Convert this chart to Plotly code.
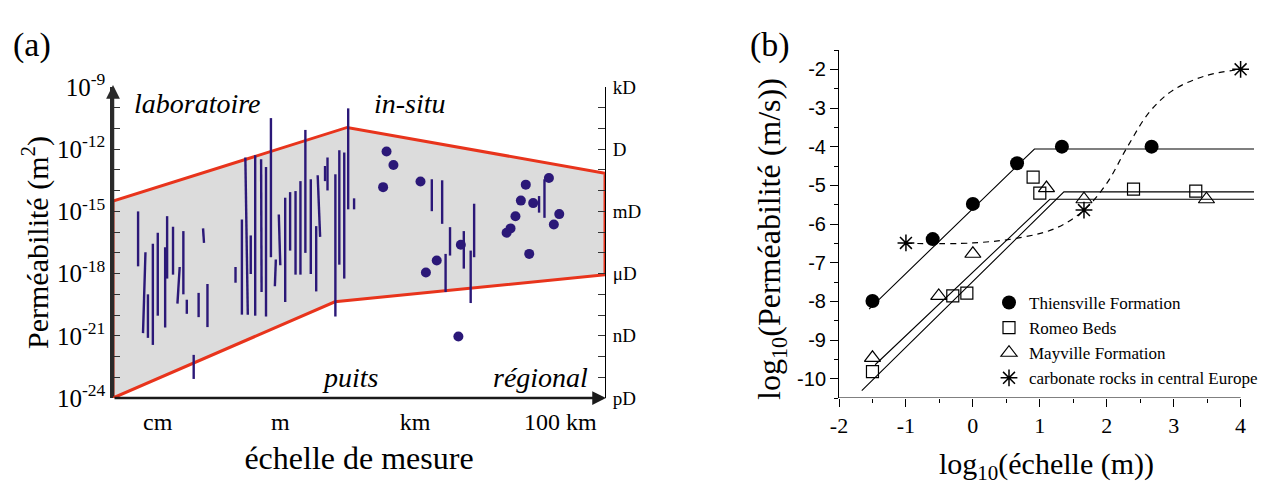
import numpy as np
import plotly.graph_objects as go

W, H = 1273, 486
SERIF = "Liberation Serif"
SANS = "Liberation Sans"
NAVY = "#2b1878"
RED = "#e8341c"

# ---------------- Panel (a) data ----------------
# x: position along the schematic measurement-scale axis (0 = left, 100 = right)
scale_tick_pos = [9.1, 34.0, 61.4, 90.9]
scale_tick_lab = ["cm", "m", "km", "100 km"]

perm_major_exp = [-24, -21, -18, -15, -12, -9]
perm_major_lab = ["10<sup>-24</sup>", "10<sup>-21</sup>", "10<sup>-18</sup>",
                  "10<sup>-15</sup>", "10<sup>-12</sup>", "10<sup>-9</sup>"]
darcy_lab = ["pD", "nD", "\u03bcD", "mD", "D", "kD"]

# envelope (log10 permeability)
env_x = [0, 47.6, 100, 100, 45.1, 0, 0]
env_exp = [-14.5, -10.95, -13.16, -18.05, -19.36, -24, -14.5]

# measured ranges: x at top, x at bottom, log10 k top, log10 k bottom
rng_x_top = [5.1, 6.6, 7.1, 8.1, 9.1, 10.6, 11.0, 12.2, 13.55, 14.3, 15.0, 16.4, 17.4,
             18.3, 19.2, 24.9, 26.2, 26.9, 28.0, 28.9, 30.1, 31.1, 32.1, 33.1, 33.7,
             35.0, 36.0, 37.1, 38.1, 39.1, 40.2, 41.3, 41.6, 43.1, 43.6, 45.2, 46.0,
             47.0, 47.8, 49.0, 64.8, 66.9, 68.5, 71.3, 67.6, 73.4, 72.7, 86.6, 87.7]
rng_x_bot = [5.1, 6.1, 7.1, 8.1, 9.1, 10.6, 11.0, 12.2, 13.1, 14.3, 15.0, 16.4, 17.4,
             18.5, 19.2, 24.9, 26.2, 27.4, 28.0, 28.9, 30.2, 31.1, 32.1, 32.9, 34.0,
             35.0, 36.0, 37.1, 38.1, 39.1, 40.2, 41.3, 42.1, 43.1, 43.6, 45.2, 46.0,
             47.0, 47.8, 49.0, 64.8, 66.9, 68.5, 71.3, 67.6, 73.4, 72.7, 86.6, 87.7]
rng_top = [-15.0, -16.97, -19.0, -16.56, -16.03, -16.73, -15.23, -15.74, -17.68, -15.95,
           -19.26, -21.92, -18.93, -15.82, -18.5, -17.68, -15.39, -12.4, -16.16, -12.29,
           -12.49, -12.86, -10.5, -17.32, -15.15, -14.34, -14.07, -14.02, -13.54, -11.07,
           -13.45, -15.71, -13.26, -12.81, -12.4, -13.21, -12.05, -12.16, -10.03, -14.37,
           -13.45, -13.5, -15.76, -15.95, -17.05, -14.63, -16.89, -14.26, -13.45]
rng_bot = [-17.65, -20.87, -21.1, -21.44, -20.03, -20.6, -18.24, -18.05, -19.45, -19.0,
           -19.94, -23.08, -20.1, -16.52, -20.58, -18.44, -19.98, -19.98, -18.02, -20.03,
           -18.89, -20.07, -17.21, -18.61, -17.6, -19.37, -16.89, -18.05, -18.05, -17.0,
           -18.02, -18.86, -16.23, -13.54, -13.99, -20.07, -17.57, -18.24, -14.9, -14.9,
           -14.99, -15.6, -17.13, -17.76, -18.89, -17.21, -19.42, -15.06, -15.31]

# single values
pt_x = [55.6, 57.0, 54.9, 62.5, 65.8, 63.6, 70.7, 70.2, 83.9, 82.9, 85.4, 88.6,
        90.7, 89.6, 81.8, 80.8, 80.0, 84.6]
pt_exp = [-12.11, -12.76, -13.83, -13.56, -17.37, -17.95, -16.61, -21.03, -13.71,
          -14.48, -14.6, -13.39, -15.13, -15.63, -15.23, -15.82, -16.03, -17.05]

# ---------------- Panel (b) data ----------------
thien_x = [-1.5, -0.6, 0.0, 0.66, 1.33, 2.67]
thien_y = [-7.99, -6.39, -5.48, -4.43, -4.0, -4.0]
romeo_x = [-1.5, -0.3, -0.09, 0.9, 1.0, 2.4, 3.33]
romeo_y = [-9.82, -7.86, -7.79, -4.79, -5.2, -5.1, -5.15]
may_x = [-1.5, -0.51, 0.0, 1.1, 1.66, 3.49]
may_y = [-9.46, -7.86, -6.77, -5.07, -5.36, -5.36]
carb_x = [-1.0, 1.66, 4.0]
carb_y = [-6.49, -5.64, -2.0]

thien_fit_x = [-1.55, 0.92, 4.2]
thien_fit_y = [-8.2, -4.06, -4.06]
romeo_fit_x = [-1.66, 1.36, 4.2]
romeo_fit_y = [-10.31, -5.17, -5.17]
may_fit_x = [-1.46, 1.15, 4.2]
may_fit_y = [-9.64, -5.36, -5.36]
carb_curve_x = [-1.0, 0.0, 0.75, 1.25, 1.66, 2.0, 2.31, 2.64, 2.99, 3.49, 4.0]
carb_curve_y = [-6.5, -6.49, -6.34, -6.1, -5.64, -4.95, -4.0, -3.1, -2.54, -2.16, -2.0]

fig = go.Figure()

# ---- panel (a) traces ----
fig.add_trace(go.Scatter(x=env_x, y=10.0 ** np.array(env_exp), mode="lines",
                         fill="toself", fillcolor="#dcdcdc",
                         line=dict(color=RED, width=3), showlegend=False,
                         hoverinfo="skip", xaxis="x", yaxis="y"))
lx, ly = [], []
for xt, xb, t, b in zip(rng_x_top, rng_x_bot, rng_top, rng_bot):
    lx += [xt, xb, None]
    ly += [10.0 ** t, 10.0 ** b, None]
fig.add_trace(go.Scatter(x=lx, y=ly, mode="lines", line=dict(color=NAVY, width=2.4),
                         showlegend=False, xaxis="x", yaxis="y"))
fig.add_trace(go.Scatter(x=pt_x, y=10.0 ** np.array(pt_exp), mode="markers",
                         marker=dict(color=NAVY, size=10), showlegend=False,
                         xaxis="x", yaxis="y"))
# invisible trace to carry the right-hand Darcy axis
fig.add_trace(go.Scatter(x=[0], y=[1e-20], mode="markers", marker=dict(opacity=0),
                         showlegend=False, hoverinfo="skip", xaxis="x", yaxis="y2"))

# ---- panel (b) traces ----
for fx, fy in [(thien_fit_x, thien_fit_y), (romeo_fit_x, romeo_fit_y), (may_fit_x, may_fit_y)]:
    fig.add_trace(go.Scatter(x=fx, y=fy, mode="lines", line=dict(color="black", width=1.1),
                             showlegend=False, xaxis="x3", yaxis="y3"))
fig.add_trace(go.Scatter(x=carb_curve_x, y=carb_curve_y, mode="lines",
                         line=dict(color="black", width=1.2, dash="6px,5px", shape="spline"),
                         showlegend=False, xaxis="x3", yaxis="y3"))
fig.add_trace(go.Scatter(x=thien_x, y=thien_y, mode="markers", name="Thiensville Formation",
                         marker=dict(symbol="circle", size=14, color="black"),
                         legendgroup="a", xaxis="x3", yaxis="y3"))
fig.add_trace(go.Scatter(x=romeo_x, y=romeo_y, mode="markers", name="Romeo Beds",
                         marker=dict(symbol="square-open", size=12, color="black",
                                     line=dict(width=1.2)),
                         legendgroup="b", xaxis="x3", yaxis="y3"))
fig.add_trace(go.Scatter(x=may_x, y=may_y, mode="markers", name="Mayville Formation",
                         marker=dict(symbol="triangle-up-open", size=14, color="black",
                                     line=dict(width=1.2)),
                         legendgroup="c", xaxis="x3", yaxis="y3"))
fig.add_trace(go.Scatter(x=carb_x, y=carb_y, mode="markers",
                         name="carbonate rocks in central Europe",
                         marker=dict(symbol="asterisk-open", size=14, color="black",
                                     line=dict(width=1.5, color="black")),
                         legendgroup="d", xaxis="x3", yaxis="y3"))

all_dec = [10.0 ** k for k in range(-24, -8)]
lab_left = {k: l for k, l in zip(perm_major_exp, perm_major_lab)}
lab_right = {k: l for k, l in zip(perm_major_exp, darcy_lab)}
txt_left = [lab_left.get(k, "") for k in range(-24, -8)]
txt_right = [lab_right.get(k, "") for k in range(-24, -8)]

xa0, xa1 = 113 / W, 605 / W
ya0, ya1 = 1 - 398 / H, 1 - 87 / H
xb0, xb1 = 839 / W, 1254 / W
yb0, yb1 = 1 - 398 / H, 1 - 50 / H

fig.update_layout(
    width=W, height=H, margin=dict(l=0, r=0, t=0, b=0, autoexpand=False), autosize=False,
    paper_bgcolor="white", plot_bgcolor="rgba(0,0,0,0)",
    font=dict(family=SERIF, color="black"),
    xaxis=dict(domain=[xa0, xa1], range=[0, 100], showgrid=False, zeroline=False,
               showline=False, ticks="", tickvals=scale_tick_pos, ticktext=scale_tick_lab,
               tickfont=dict(family=SERIF, size=24), ticklabelstandoff=7,
               title=dict(text="échelle de mesure", font=dict(family=SERIF, size=32),
                          standoff=12),
               anchor="y", fixedrange=True, automargin=False),
    yaxis=dict(domain=[ya0, ya1], type="log", range=[-24, -9], showgrid=False,
               zeroline=False, showline=True, linecolor="#2a2a2a", linewidth=2.5,
               ticks="inside", ticklen=7, tickwidth=1, tickcolor="#333",
               tickvals=all_dec, ticktext=txt_left,
               tickfont=dict(family=SERIF, size=25),
               title=dict(text="Perméabilité (m<sup>2</sup>)",
                          font=dict(family=SERIF, size=30), standoff=0),
               anchor="x", fixedrange=True, automargin=False),
    yaxis2=dict(domain=[ya0, ya1], type="log", range=[-24, -9], overlaying="y",
                side="right", anchor="x", showgrid=False, zeroline=False,
                showline=True, linecolor="black", linewidth=1,
                ticks="inside", ticklen=7, tickwidth=1, tickcolor="#333",
                tickvals=all_dec, ticktext=txt_right, ticklabelstandoff=3,
                tickfont=dict(family=SERIF, size=19), fixedrange=True, automargin=False),
    xaxis3=dict(domain=[xb0, xb1], range=[-2, 4.2], showgrid=False, zeroline=False,
                showline=False, ticks="outside", ticklen=8, tickwidth=1, tickcolor="black",
                tickvals=[-2, -1, 0, 1, 2, 3, 4], ticktext=["-2", "-1", "0", "1", "2", "3", "4"],
                minor=dict(tickvals=[-1.5, -0.5, 0.5, 1.5, 2.5, 3.5], ticks="outside",
                           ticklen=4, tickcolor="black"),
                tickfont=dict(family=SERIF, size=22),
                title=dict(text="log<sub>10</sub>(échelle (m))",
                           font=dict(family=SERIF, size=30), standoff=15),
                anchor="y3", fixedrange=True, automargin=False),
    yaxis3=dict(domain=[yb0, yb1], range=[-10.5, -1.5], showgrid=False, zeroline=False,
                showline=True, linecolor="black", linewidth=1,
                ticks="outside", ticklen=8, tickwidth=1, tickcolor="black",
                tickvals=list(range(-10, -1)), ticktext=[str(v) for v in range(-10, -1)],
                minor=dict(tickvals=[-10.5, -9.5, -8.5, -7.5, -6.5, -5.5, -4.5, -3.5,
                                     -2.5, -1.5], ticks="outside", ticklen=4,
                           tickcolor="black"),
                tickfont=dict(family=SANS, size=20),
                anchor="x3", fixedrange=True, automargin=False),
    legend=dict(x=989 / W, y=1 - 285 / H, xanchor="left", yanchor="top",
                bgcolor="rgba(0,0,0,0)", font=dict(family=SERIF, size=17),
                traceorder="grouped", tracegroupgap=0, itemwidth=30),
    showlegend=True,
)

# y title of panel (b), centred as in the original figure
fig.add_annotation(xref="paper", yref="paper", x=771 / W, y=1 - 239 / H,
                   text="log<sub>10</sub>(Perméabilité (m/s))", textangle=-90,
                   xanchor="center", yanchor="middle", showarrow=False,
                   font=dict(family=SERIF, size=32))

# panel (a) frame: top border, bottom axis with arrow, left axis arrow
fig.add_shape(type="line", xref="x", yref="y", x0=0, x1=100, y0=-9, y1=-9,
              line=dict(color="black", width=1))
fig.add_annotation(xref="x", yref="y", axref="x", ayref="y", x=100.2, y=-24, ax=0, ay=-24,
                   showarrow=True, arrowhead=2, arrowsize=1.1, arrowwidth=2.5,
                   arrowcolor="#1a1a1a", text="")
fig.add_annotation(xref="x", yref="y", axref="x", ayref="y", x=0, y=-8.9, ax=0, ay=-24,
                   showarrow=True, arrowhead=2, arrowsize=1.1, arrowwidth=2.5,
                   arrowcolor="#2a2a2a", text="")
# panel (b) bottom axis line
fig.add_shape(type="line", xref="x3", yref="y3", x0=-2, x1=4, y0=-10.5, y1=-10.5,
              line=dict(color="black", width=1))

# region labels in panel (a)
for txt, xp, yexp in [("laboratoire", 17.2, -9.8), ("in-situ", 60.4, -9.8),
                      ("puits", 48.2, -23.0), ("régional", 86.8, -23.0)]:
    fig.add_annotation(xref="x", yref="y", x=xp, y=yexp, text="<i>%s</i>" % txt,
                       showarrow=False, font=dict(family=SERIF, size=28))

# panel letters
fig.add_annotation(xref="paper", yref="paper", x=32 / W, y=1 - 45 / H, text="(a)",
                   xanchor="center", yanchor="middle",
                   showarrow=False, font=dict(family=SERIF, size=34))
fig.add_annotation(xref="paper", yref="paper", x=770 / W, y=1 - 45 / H, text="(b)",
                   xanchor="center", yanchor="middle",
                   showarrow=False, font=dict(family=SERIF, size=34))

fig.write_html("out.html", config={"displayModeBar": False},
               post_script="document.body.style.margin='0';")
